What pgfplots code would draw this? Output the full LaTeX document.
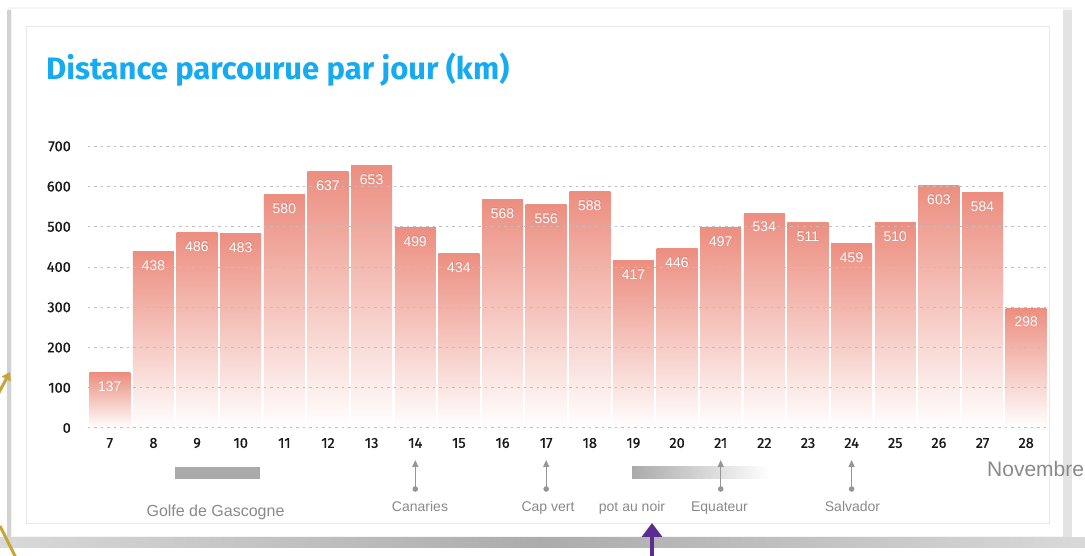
\documentclass[border=0pt]{standalone}
\usepackage{pgfplots}
\pgfplotsset{compat=1.18}
\usepackage{fontspec}
\setmainfont{Liberation Sans}
\newfontfamily\fira{Fira Sans}
\newfontfamily\firam[FakeBold=0.7]{Fira Sans}
\usetikzlibrary{arrows.meta}
\definecolor{barc}{RGB}{236,142,128}
\definecolor{titlec}{RGB}{22,170,240}
\definecolor{annc}{RGB}{138,138,138}
\definecolor{arrc}{RGB}{150,150,150}
\definecolor{gridc}{RGB}{190,190,190}
\definecolor{gold}{RGB}{200,165,55}
\definecolor{purp}{RGB}{90,45,145}
\definecolor{gbar}{RGB}{170,170,170}
\pgfplotstableread{
day dist
7 137
8 438
9 486
10 483
11 580
12 637
13 653
14 499
15 434
16 568
17 556
18 588
19 417
20 446
21 497
22 534
23 511
24 459
25 510
26 603
27 584
28 298
}\dist
\begin{document}
\begin{tikzpicture}[x=1pt,y=1pt]
\useasboundingbox (-88,-128) rectangle (997,428);
\fill[white] (-88,-128) rectangle (997,428);
% outer panel shadows
\fill[gray!8] (-80,-112) rectangle (984,421);
\fill[white] (-76,-108) rectangle (975,419);
\fill[gray!35] (-81,-110) rectangle (-77,418);
\fill[gray!22] (975,-110) rectangle (984,418);
\shade[left color=gray!30, right color=gray!30, middle color=gray!65] (-88,-120) rectangle (997,-110);
% card
\draw[gray!18, line width=0.8pt, fill=white] (-62,-95) rectangle (961,402);
% title
\node[anchor=base west, inner sep=0pt, font=\fira\bfseries\fontsize{31}{35}\selectfont, text=titlec] at (-42,348) {Distance parcourue par jour (km)};
\begin{axis}[
  at={(0,0)}, anchor=south west, scale only axis,
  width=960pt, height=281.7pt,
  xmin=6.5, xmax=28.5, ymin=0, ymax=700,
  axis line style={draw=none}, major tick length=0pt,
  xtick={7,...,28}, ytick={0,100,...,700},
  ymajorgrids, grid style={gridc, line width=1pt, dash pattern=on 2.5pt off 4pt},
  axis on top, clip=false,
  tick label style={font=\firam\fontsize{14.5}{16}\selectfont, text=black!90},
  /pgf/number format/assume math mode=true,
  yticklabel style={inner sep=0pt, anchor=east, xshift=-17pt},
  xticklabel style={inner sep=0pt, anchor=center, yshift=-15pt},
]
\pgfplotsinvokeforeach{7,...,28}{
  \addplot[ybar, bar width=0.94, draw=none, top color=barc, bottom color=white,
    restrict x to domain=#1:#1] table[x=day, y=dist] {\dist};
}
\addplot[draw=none, mark=none, nodes near coords, point meta=y,
  every node near coord/.style={anchor=center, yshift=-13.5pt, xshift=0.6pt, inner sep=0pt, text=barc!75!black, opacity=0.35, font=\fontsize{14}{16}\selectfont}] table[x=day, y=dist] {\dist};
\addplot[draw=none, mark=none, nodes near coords, point meta=y,
  every node near coord/.style={anchor=center, yshift=-14pt, inner sep=0pt, text=white, font=\fontsize{14}{16}\selectfont}] table[x=day, y=dist] {\dist};
\end{axis}
% annotations
\fill[gbar] (87,-51) rectangle (172,-39);
\shade[left color=gbar, right color=white] (544,-51) rectangle (682,-39);
\foreach \xx in {327.3,458.2,632.7,763.6}{
  \draw[arrc, line width=1.2pt, -{Triangle[width=6pt,length=7pt]}] (\xx,-61) -- (\xx,-32);
  \fill[arrc] (\xx,-61) circle (2.8);
}
\node[anchor=base, inner sep=0pt, text=annc, font=\fontsize{16}{18}\selectfont] at (127.5,-89) {Golfe de Gascogne};
\node[anchor=base, inner sep=0pt, text=annc, font=\fontsize{14}{16}\selectfont] at (332,-84) {Canaries};
\node[anchor=base, inner sep=0pt, text=annc, font=\fontsize{14}{16}\selectfont] at (460,-84) {Cap vert};
\node[anchor=base, inner sep=0pt, text=annc, font=\fontsize{14}{16}\selectfont] at (544,-84) {pot au noir};
\node[anchor=base, inner sep=0pt, text=annc, font=\fontsize{14}{16}\selectfont] at (631.5,-84) {Equateur};
\node[anchor=base, inner sep=0pt, text=annc, font=\fontsize{14}{16}\selectfont] at (764.5,-84) {Salvador};
\node[anchor=base west, inner sep=0pt, text=annc, font=\fontsize{21}{24}\selectfont] at (899,-49) {Novembre};
% decorations
\draw[gold, line width=3pt, -{Triangle[width=10pt,length=8pt]}] (-92,30) -- (-78,56);
\draw[gold, line width=3pt] (-88,-98) -- (-72,-130);
\draw[purp, line width=3.5pt, -{Triangle[width=20pt,length=14pt]}] (564,-130) -- (564,-95);
\end{tikzpicture}
\end{document}
